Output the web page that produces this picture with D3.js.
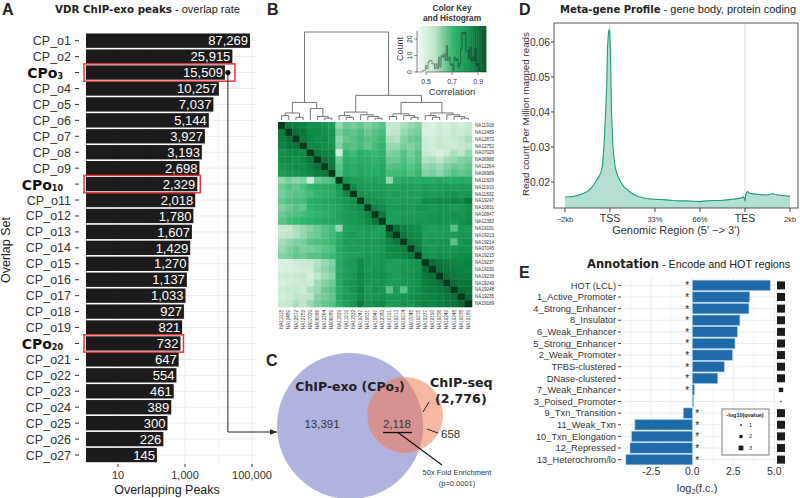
<!DOCTYPE html>
<html>
<head>
<meta charset="utf-8">
<script src="https://d3js.org/d3.v7.min.js"></script>
<style>
  body { margin: 0; background: white; }
  svg { display: block; font-family: "Liberation Sans", Arial, Helvetica, sans-serif; }
  .heavy { font-family: "DejaVu Sans", "Liberation Sans", sans-serif; font-weight: bold; }
</style>
</head>
<body>
<svg id="fig" width="800" height="498"></svg>
<script>
// ---- A: overlap sets
const overlapSets = ["CP_o1","CP_o2","CP_o3","CP_o4","CP_o5","CP_o6","CP_o7","CP_o8","CP_o9","CP_o10",
  "CP_o11","CP_o12","CP_o13","CP_o14","CP_o15","CP_o16","CP_o17","CP_o18","CP_o19","CP_o20",
  "CP_o21","CP_o22","CP_o23","CP_o24","CP_o25","CP_o26","CP_o27"];
const overlapPeaks = [87269,25915,15509,10257,7037,5144,3927,3193,2698,2329,2018,1780,1607,1429,
  1270,1137,1033,927,821,732,647,554,461,389,300,226,145];
const boxedSets = ["CP_o3","CP_o10","CP_o20"];
const peakTicks = [10, 1000, 100000];
const peakMinor = [100, 10000];

// ---- B: correlation heatmap
const samples = ["NA11918","NA12489","NA12872","NA12752","NA07029","NA06986","NA12264","NA06989",
  "NA11829","NA11919","NA11832","NA19247","NA10831","NA10847","NA12383","NA19191","NA19213",
  "NA19214","NA07045","NA19215","NA19237","NA19190","NA19236","NA19249","NA19248","NA19235","NA19189"];
// lower triangle, correlation x100
const corrLower = [
  [100],
  [88,100],
  [87,89,100],
  [86,88,88,100],
  [82,84,85,84,100],
  [83,84,83,85,88,100],
  [80,82,84,83,86,89,100],
  [78,80,81,82,85,87,88,100],
  [60,63,61,62,52,64,66,67,100],
  [64,66,65,67,70,72,73,74,80,100],
  [63,65,66,66,68,70,72,72,78,84,100],
  [65,67,68,68,72,73,75,76,78,80,82,100],
  [62,64,66,65,70,72,73,74,76,79,80,84,100],
  [64,66,67,68,69,70,72,73,77,78,79,82,86,100],
  [66,68,69,70,71,72,74,75,76,78,79,81,84,88,100],
  [55,54,58,60,62,64,66,68,60,76,77,78,79,78,77,100],
  [54,56,57,60,63,64,67,68,72,77,78,77,78,77,78,90,100],
  [58,60,62,63,66,67,68,69,74,78,77,79,80,79,80,86,88,100],
  [60,62,64,62,63,64,66,67,74,77,78,78,79,78,79,84,85,87,100],
  [62,63,65,64,66,66,68,69,73,76,77,78,80,79,80,83,84,86,88,100],
  [50,49,52,53,54,57,60,62,74,78,79,84,80,79,80,78,77,79,80,82,100],
  [48,50,51,52,52,58,61,63,73,77,78,83,79,80,81,77,78,80,79,81,90,100],
  [52,53,54,55,50,56,59,61,75,78,79,85,81,81,82,79,78,80,81,83,88,89,100],
  [50,52,53,54,53,59,62,64,74,79,80,84,80,80,81,78,79,81,80,82,87,88,90,100],
  [53,54,55,53,58,60,64,66,73,77,81,86,79,82,80,66,79,66,81,83,86,87,88,90,100],
  [51,53,56,55,56,62,63,65,74,78,79,84,80,80,82,79,80,81,82,84,85,86,87,88,90,100],
  [54,55,58,56,60,63,65,66,72,77,80,88,82,83,84,78,79,82,81,84,86,85,87,88,89,91,100]
];
// column dendrogram (h = merge height, leaves = sample index)
const dendro = {h:1.0, c:[
  {h:0.2, c:[
    {h:0.08, c:[{h:0.05,c:[0,1]}, {h:0.03,c:[2,3]}]},
    {h:0.13, c:[4, {h:0.04, c:[5,{h:0.02,c:[6,7]}]}]}
  ]},
  {h:0.28, c:[
    {h:0.09, c:[{h:0.05,c:[8,{h:0.03,c:[9,10]}]}, {h:0.06,c:[11,{h:0.04,c:[12,{h:0.02,c:[13,14]}]}]}]},
    {h:0.2, c:[
      {h:0.07, c:[{h:0.04,c:[15,16]},{h:0.05,c:[17,{h:0.03,c:[18,19]}]}]},
      {h:0.08, c:[{h:0.05,c:[20,{h:0.03,c:[21,22]}]},{h:0.06,c:[23,{h:0.04,c:[24,{h:0.02,c:[25,26]}]}]}]}
    ]}
  ]}
]};
const keyTicks = [0.5, 0.7, 0.9];
const countTicks = [0, 10, 20];

// ---- C: venn
const vennExoOnly = "13,391", vennBoth = "2,118", vennSeqOnly = "658", seqTotal = "2,776";

// ---- D: meta-gene profile
const profileX = [0,0.1,0.2,0.3,0.4,0.5,0.58,0.62,0.69,0.76,0.8,0.833,0.87,0.907,0.929,0.944,0.966,0.981,
  0.996,1.018,1.032,1.062,1.095,1.128,1.18,1.239,1.31,1.386,1.46,1.55,1.65,1.8,1.95,2.1,2.25,2.4,2.55,2.7,
  2.85,3.0,3.15,3.3,3.45,3.6,3.75,3.9,3.97,4.0,4.02,4.05,4.1,4.2,4.35,4.5,4.62,4.66,4.8,5.0];
const profileY = [.0157,.0158,.0159,.0162,.0167,.0173,.0182,.0189,.0202,.0216,.0228,.0245,.031,.041,.048,.058,.0625,.0636,
  .0628,.053,.041,.031,.026,.0235,.0215,.02,.0186,.0178,.017,.0163,.0158,.0153,.0151,.015,.0149,.0147,.0146,.0146,
  .0145,.0144,.0146,.0147,.0147,.0149,.0151,.0154,.0157,.0147,.0165,.0173,.0168,.0166,.0164,.0163,.0167,.0164,.0162,.0159];
const regionTicks = [0,1,2,3,4,5];
const regionLabels = ["\u22122kb","TSS","33%","66%","TES","2kb"];
const rpmTicks = [0.02,0.03,0.04,0.05,0.06];

// ---- E: annotation enrichment
const annoCats = ["HOT (LCL)","1_Active_Promoter","4_Strong_Enhancer","8_Insulator","6_Weak_Enhancer",
  "5_Strong_Enhancer","2_Weak_Promoter","TFBS-clustered","DNase-clustered","7_Weak_Enhancer",
  "3_Poised_Promoter","9_Txn_Transition","11_Weak_Txn","10_Txn_Elongation","12_Repressed","13_Heterochrom/lo"];
const annoFC = [4.75,3.5,3.45,2.9,2.75,2.6,2.45,1.95,1.55,0.12,0.08,-0.55,-3.5,-3.7,-3.8,-4.05];
const annoQ = [4,4,4,4,4,4,4,4,4,2.2,0.6,4,4,4,4,4];
const annoStar = [1,1,1,1,1,1,1,1,1,1,0,1,1,1,1,1];
const fcTicks = [-2.5,0,2.5,5];
const fcMinor = [-3.75,-1.25,1.25,3.75];
const qLegend = [1,2,3];

const svg = d3.select("#fig");
const grid = "#ebebeb", gridMinor = "#f5f5f5";

// panel letters
[["A",2,15],["B",267,15],["C",266,366],["D",519,15],["E",519,278]].forEach(l => {
  svg.append("text").attr("x", l[1]).attr("y", l[2]).text(l[0])
    .style("font-size", "16px").style("font-weight", "bold").attr("fill", "#222");
});

// ================= A =================
const aL = 86, aR = 256, aT = 32, aB = 464;
const xA = d3.scaleLog().domain([10, 1000]).range([118, 185]);
const yA = d3.scaleBand().domain(overlapSets).range([32.7, 463]).paddingInner(0.1).paddingOuter(0.05);

let title = svg.append("text").attr("x", 55).attr("y", 13).style("font-size", "11px").attr("fill", "#222");
title.append("tspan").text("VDR ChIP-exo peaks").attr("class", "heavy").style("font-size", "10.3px");
title.append("tspan").text(" - overlap rate");

const gA = svg.append("g");
gA.selectAll(".hg").data(overlapSets).join("line")
  .attr("x1", aL).attr("x2", aR)
  .attr("y1", d => yA(d) + yA.bandwidth() / 2).attr("y2", d => yA(d) + yA.bandwidth() / 2)
  .attr("stroke", grid);
gA.selectAll(".mg").data(peakMinor).join("line")
  .attr("x1", d => xA(d)).attr("x2", d => xA(d)).attr("y1", aT).attr("y2", aB)
  .attr("stroke", gridMinor);
gA.selectAll(".vg").data(peakTicks).join("line")
  .attr("x1", d => xA(d)).attr("x2", d => xA(d)).attr("y1", aT).attr("y2", aB)
  .attr("stroke", grid);

gA.selectAll("rect.bar").data(overlapPeaks).join("rect").attr("class", "bar")
  .attr("x", aL).attr("y", (d, i) => yA(overlapSets[i]))
  .attr("width", d => xA(d) - aL).attr("height", yA.bandwidth())
  .attr("fill", "#1c1a1b");
gA.selectAll("text.val").data(overlapPeaks).join("text").attr("class", "val")
  .attr("x", d => xA(d) - 2).attr("y", (d, i) => yA(overlapSets[i]) + yA.bandwidth() / 2)
  .attr("dy", "0.36em").attr("text-anchor", "end")
  .style("font-size", "13px").attr("fill", "white")
  .text(d => d3.format(",")(d));

// y labels
overlapSets.forEach((s, i) => {
  const yc = yA(s) + yA.bandwidth() / 2;
  gA.append("line").attr("x1", 75).attr("x2", 79).attr("y1", yc).attr("y2", yc).attr("stroke", "#333");
  if (boxedSets.includes(s)) {
    const t = gA.append("text").attr("x", 63).attr("y", yc).attr("dy", "0.36em")
      .attr("text-anchor", "end").attr("fill", "#111").attr("class", "heavy");
    t.append("tspan").text("CPo").style("font-size", "14px");
    t.append("tspan").text(s.replace("CP_o", "")).style("font-size", "8px").attr("dy", "1");
  } else {
    gA.append("text").attr("x", 71).attr("y", yc).attr("dy", "0.36em").attr("text-anchor", "end")
      .style("font-size", "12.5px").attr("fill", "#333").text(s);
  }
});
// red boxes
boxedSets.forEach((s, k) => {
  const v = overlapPeaks[overlapSets.indexOf(s)];
  const extra = k === 0 ? 10 : 3;
  gA.append("rect").attr("x", aL - 2).attr("y", yA(s) - 1.5)
    .attr("width", xA(v) - aL + 2 + extra).attr("height", yA.bandwidth() + 3)
    .attr("fill", "none").attr("stroke", "#e0393a").attr("stroke-width", 1.5);
});
// x axis
gA.selectAll(".xt").data(peakTicks).join("text")
  .attr("x", d => xA(d)).attr("y", 479).attr("text-anchor", "middle")
  .style("font-size", "11px").attr("fill", "#333").text(d => d3.format(",")(d));
gA.selectAll(".xtk").data(peakTicks).join("line")
  .attr("x1", d => xA(d)).attr("x2", d => xA(d)).attr("y1", aB).attr("y2", aB + 3).attr("stroke", "#333");
gA.append("text").attr("x", (aL + aR) / 2 - 4).attr("y", 494).attr("text-anchor", "middle")
  .style("font-size", "12.5px").attr("fill", "#222").text("Overlapping Peaks");
gA.append("text").attr("transform", "translate(10,250) rotate(-90)").attr("text-anchor", "middle")
  .style("font-size", "12.5px").attr("fill", "#222").text("Overlap Set");

// ================= B =================
const n = samples.length;
const corr = d3.range(n).map(i => d3.range(n).map(j => (i >= j ? corrLower[i][j] : corrLower[j][i]) / 100));
const xB = d3.scaleBand().domain(d3.range(n)).range([278, 472]);
const yB = d3.scaleBand().domain(d3.range(n)).range([122, 307]);
const heat = d3.scaleLinear()
  .domain([0.43, 0.56, 0.7, 0.84, 1.0])
  .range(["#f2faf4", "#bfe6cb", "#2fb46b", "#0e8c47", "#03381b"]);

const gB = svg.append("g");
const cells = [];
corr.forEach((row, i) => row.forEach((v, j) => cells.push({i, j, v})));
gB.selectAll("rect.cell").data(cells).join("rect").attr("class", "cell")
  .attr("x", d => xB(d.j)).attr("y", d => yB(d.i))
  .attr("width", xB.bandwidth() + 0.3).attr("height", yB.bandwidth() + 0.3)
  .attr("fill", d => heat(d.v));
gB.selectAll("text.rl").data(samples).join("text").attr("class", "rl")
  .attr("x", 475).attr("y", (d, i) => yB(i) + yB.bandwidth() / 2).attr("dy", "0.35em")
  .style("font-size", "4.6px").attr("fill", "#333").text(d => d);
gB.selectAll("text.cl").data(samples).join("text").attr("class", "cl")
  .attr("transform", (d, i) => `translate(${xB(i) + xB.bandwidth() / 2 + 1.6},310) rotate(-90)`)
  .attr("text-anchor", "end")
  .style("font-size", "4.6px").attr("fill", "#333").text(d => d);

// dendrogram
const yD = d3.scaleLinear().domain([0, 1]).range([120, 32]);
function drawNode(nd) {
  if (typeof nd === "number") return {x: xB(nd) + xB.bandwidth() / 2, h: 0};
  const kids = nd.c.map(drawNode);
  const y = yD(nd.h);
  kids.forEach(k => {
    gB.append("line").attr("x1", k.x).attr("x2", k.x).attr("y1", yD(k.h)).attr("y2", y)
      .attr("stroke", "#666").attr("stroke-width", 0.9);
  });
  gB.append("line").attr("x1", kids[0].x).attr("x2", kids[kids.length - 1].x).attr("y1", y).attr("y2", y)
    .attr("stroke", "#666").attr("stroke-width", 0.9);
  return {x: d3.mean(kids, k => k.x), h: nd.h};
}
drawNode(dendro);

// color key + histogram
const kx = d3.scaleLinear().domain([0.43, 0.96]).range([417, 486]);
const ky = d3.scaleLinear().domain([0, 28]).range([72, 26]);
const keySteps = d3.range(0.43, 0.96, 0.005);
gB.selectAll("rect.key").data(keySteps).join("rect").attr("class", "key")
  .attr("x", d => kx(d)).attr("y", ky(28)).attr("width", kx(0.435) - kx(0.43) + 0.4)
  .attr("height", ky(0) - ky(28)).attr("fill", d => heat(d));
const offDiag = [];
corrLower.forEach((row, i) => row.forEach((v, j) => { if (j < i) offDiag.push(v); }));
const counts = d3.range(43, 97).map(v => ({v: v / 100, c: offDiag.filter(o => o === v).length}));
const step = [];
counts.forEach(d => { step.push([kx(d.v - 0.005), ky(Math.min(d.c, 28))]); step.push([kx(d.v + 0.005), ky(Math.min(d.c, 28))]); });
gB.append("path").attr("d", d3.line()(step)).attr("fill", "none")
  .attr("stroke", "rgba(20,20,20,0.55)").attr("stroke-width", 0.8);
gB.append("line").attr("x1", 417).attr("x2", 417).attr("y1", ky(0)).attr("y2", ky(25)).attr("stroke", "#333").attr("stroke-width", 0.6);
gB.selectAll(".kyt").data(countTicks).join("line")
  .attr("x1", 414).attr("x2", 417).attr("y1", d => ky(d)).attr("y2", d => ky(d)).attr("stroke", "#333").attr("stroke-width", 0.6);
gB.selectAll(".kytl").data(countTicks).join("text")
  .attr("transform", d => `translate(412,${ky(d)}) rotate(-90)`).attr("text-anchor", "middle")
  .style("font-size", "7px").attr("fill", "#333").text(d => d);
gB.append("line").attr("x1", kx(0.5)).attr("x2", kx(0.9)).attr("y1", 72).attr("y2", 72).attr("stroke", "#333").attr("stroke-width", 0.6);
gB.selectAll(".kxt").data(keyTicks).join("line")
  .attr("x1", d => kx(d)).attr("x2", d => kx(d)).attr("y1", 72).attr("y2", 75).attr("stroke", "#333").attr("stroke-width", 0.6);
gB.selectAll(".kxtl").data(keyTicks).join("text")
  .attr("x", d => kx(d)).attr("y", 84).attr("text-anchor", "middle")
  .style("font-size", "7px").attr("fill", "#333").text(d => d);
gB.append("text").attr("x", 452).attr("y", 95).attr("text-anchor", "middle")
  .style("font-size", "9.5px").attr("fill", "#333").text("Correlation");
gB.append("text").attr("transform", "translate(403,49) rotate(-90)").attr("text-anchor", "middle")
  .style("font-size", "9px").attr("fill", "#333").text("Count");
gB.append("text").attr("x", 452).attr("y", 11).attr("text-anchor", "middle")
  .style("font-size", "8.3px").style("font-weight", "bold").attr("fill", "#333").text("Color Key");
gB.append("text").attr("x", 452).attr("y", 21).attr("text-anchor", "middle")
  .style("font-size", "8.3px").style("font-weight", "bold").attr("fill", "#333").text("and Histogram");

// ================= C =================
const gC = svg.append("g");
const big = {x: 350, y: 426, r: 73}, small = {x: 405, y: 415, r: 38};
gC.append("clipPath").attr("id", "bigclip").append("circle")
  .attr("cx", big.x).attr("cy", big.y).attr("r", big.r);
gC.append("circle").attr("cx", big.x).attr("cy", big.y).attr("r", big.r).attr("fill", "#b1b3df");
gC.append("circle").attr("cx", small.x).attr("cy", small.y).attr("r", small.r).attr("fill", "#f5b8a1");
gC.append("circle").attr("cx", small.x).attr("cy", small.y).attr("r", small.r).attr("fill", "#d69191")
  .attr("clip-path", "url(#bigclip)");

let t1 = gC.append("text").attr("x", 350).attr("y", 391).attr("text-anchor", "middle")
  .style("font-size", "12.5px").attr("class", "heavy").attr("fill", "#222");
t1.append("tspan").text("ChIP-exo (CPo");
t1.append("tspan").text("3").style("font-size", "7px").attr("dy", 1);
t1.append("tspan").text(")").attr("dy", -1);
gC.append("text").attr("x", 430).attr("y", 387).style("font-size", "12.7px").attr("class", "heavy")
  .attr("fill", "#222").text("ChIP-seq");
gC.append("text").attr("x", 435).attr("y", 403).style("font-size", "12.7px").attr("class", "heavy")
  .attr("fill", "#222").text("(" + seqTotal + ")");
gC.append("line").attr("x1", 423).attr("y1", 412).attr("x2", 429).attr("y2", 402).attr("stroke", "#222");
gC.append("text").attr("x", 322).attr("y", 428).attr("text-anchor", "middle").style("font-size", "11.5px")
  .attr("fill", "#333").text(vennExoOnly);
gC.append("text").attr("x", 397).attr("y", 428).attr("text-anchor", "middle").style("font-size", "11.5px")
  .attr("fill", "#333").text(vennBoth);
gC.append("line").attr("x1", 383).attr("x2", 412).attr("y1", 432.5).attr("y2", 432.5).attr("stroke", "#111").attr("stroke-width", 1.3);
gC.append("line").attr("x1", 398).attr("y1", 432.5).attr("x2", 442).attr("y2", 465).attr("stroke", "#111").attr("stroke-width", 1.1);
gC.append("text").attr("x", 441).attr("y", 438).style("font-size", "11.5px").attr("fill", "#333").text(vennSeqOnly);
gC.append("line").attr("x1", 427).attr("y1", 429).attr("x2", 438).attr("y2", 433).attr("stroke", "#222");
gC.append("text").attr("x", 457).attr("y", 475).attr("text-anchor", "middle").style("font-size", "7.5px")
  .attr("fill", "#333").text("50x Fold Enrichment");
gC.append("text").attr("x", 457).attr("y", 486).attr("text-anchor", "middle").style("font-size", "7.5px")
  .attr("fill", "#333").text("(p=0.0001)");

// connector from CPo3 bar to venn
const cy3 = yA("CP_o3") + yA.bandwidth() / 2;
const dotX = xA(overlapPeaks[2]) + 3;
svg.append("defs").append("marker").attr("id", "arr").attr("viewBox", "0 0 10 10")
  .attr("refX", 10).attr("refY", 5).attr("markerWidth", 7).attr("markerHeight", 7).attr("orient", "auto")
  .append("path").attr("d", "M0,1 L10,5 L0,9 Z").attr("fill", "#222");
svg.append("path").attr("d", `M${dotX},${cy3} V432 H${big.x - big.r}`)
  .attr("fill", "none").attr("stroke", "#222").attr("stroke-width", 1).attr("marker-end", "url(#arr)");
svg.append("circle").attr("cx", dotX).attr("cy", cy3).attr("r", 2.6).attr("fill", "#111");

// ================= D =================
const gD = svg.append("g");
const xD = d3.scaleLinear().domain([-0.243, 5.177]).range([554, 798]);
const yDp = d3.scaleLinear().domain([0.01257, 0.0654]).range([208, 23]);
let tD = gD.append("text").attr("x", 560).attr("y", 13).style("font-size", "11px").attr("fill", "#222");
tD.append("tspan").text("Meta-gene Profile").attr("class", "heavy").style("font-size", "10px");
tD.append("tspan").text(" - gene body, protein coding");

const prof = profileX.map((x, i) => [x, profileY[i]]);
gD.append("path").datum(prof)
  .attr("d", d3.area().x(d => xD(d[0])).y0(yDp(0.01257)).y1(d => yDp(d[1])))
  .attr("fill", "#b3e0d2");
[1, 4].forEach(t => gD.append("line").attr("x1", xD(t)).attr("x2", xD(t)).attr("y1", 23).attr("y2", 208)
  .attr("stroke", "#cfcfcf").attr("stroke-width", 0.8));
gD.append("path").datum(prof)
  .attr("d", d3.line().x(d => xD(d[0])).y(d => yDp(d[1])))
  .attr("fill", "none").attr("stroke", "#1b9e7e").attr("stroke-width", 1.1);
gD.append("rect").attr("x", 554).attr("y", 23).attr("width", 244).attr("height", 185)
  .attr("fill", "none").attr("stroke", "#444").attr("stroke-width", 0.9);
gD.selectAll(".dyt").data(rpmTicks).join("line")
  .attr("x1", 551).attr("x2", 554).attr("y1", d => yDp(d)).attr("y2", d => yDp(d)).attr("stroke", "#444");
gD.selectAll(".dytl").data(rpmTicks).join("text")
  .attr("x", 550).attr("y", d => yDp(d)).attr("dy", "0.35em").attr("text-anchor", "end")
  .style("font-size", "10.3px").attr("fill", "#333").text(d => d.toFixed(2));
gD.selectAll(".dxt").data(regionTicks).join("line")
  .attr("x1", d => xD(d)).attr("x2", d => xD(d)).attr("y1", 208).attr("y2", 212).attr("stroke", "#444");
gD.selectAll(".dxtl").data(regionTicks).join("text")
  .attr("x", d => xD(d)).attr("y", 222).attr("text-anchor", "middle")
  .style("font-size", (d, i) => (regionLabels[i] === "TSS" || regionLabels[i] === "TES") ? "10.5px" : "7.5px")
  .attr("fill", "#333").text((d, i) => regionLabels[i]);
gD.append("text").attr("x", 676).attr("y", 234).attr("text-anchor", "middle")
  .style("font-size", "11px").attr("fill", "#333").text("Genomic Region (5' \u2212> 3')");
gD.append("text").attr("transform", "translate(529,114) rotate(-90)").attr("text-anchor", "middle")
  .style("font-size", "9.8px").attr("fill", "#333").text("Read count Per Million mapped reads");

// ================= E =================
const gE = svg.append("g");
const xE = d3.scaleLinear().domain([-4.2, 5.1]).range([623.4, 776]);
const yE = d3.scaleBand().domain(annoCats).range([279, 466]).padding(0.1);
let tE = gE.append("text").attr("x", 587).attr("y", 268).style("font-size", "10.8px").attr("fill", "#222");
tE.append("tspan").text("Annotation").attr("class", "heavy").style("font-size", "11.5px");
tE.append("tspan").text(" - Encode and HOT regions");

gE.selectAll(".emg").data(fcMinor).join("line")
  .attr("x1", d => xE(d)).attr("x2", d => xE(d)).attr("y1", 277).attr("y2", 466).attr("stroke", gridMinor);
gE.selectAll(".eg").data(fcTicks).join("line")
  .attr("x1", d => xE(d)).attr("x2", d => xE(d)).attr("y1", 277).attr("y2", 466).attr("stroke", grid);
gE.selectAll(".ehg").data(annoCats).join("line")
  .attr("x1", 623.4).attr("x2", 776).attr("y1", d => yE(d) + yE.bandwidth() / 2).attr("y2", d => yE(d) + yE.bandwidth() / 2)
  .attr("stroke", grid);
gE.selectAll("rect.eb").data(annoFC).join("rect").attr("class", "eb")
  .attr("x", d => xE(Math.min(0, d))).attr("y", (d, i) => yE(annoCats[i]))
  .attr("width", d => Math.abs(xE(d) - xE(0))).attr("height", yE.bandwidth())
  .attr("fill", "#1f6aa8").attr("stroke", "#a9cbe6").attr("stroke-width", 0.6);
gE.selectAll("text.star").data(annoFC).join("text").attr("class", "star")
  .attr("x", d => d >= 0 ? xE(0) - 5 : xE(0) + 5)
  .attr("y", (d, i) => yE(annoCats[i]) + yE.bandwidth() / 2 + 4).attr("text-anchor", "middle")
  .style("font-size", "10px").attr("fill", "#222").text((d, i) => annoStar[i] ? "*" : "");
gE.selectAll("text.el").data(annoCats).join("text").attr("class", "el")
  .attr("x", 616).attr("y", d => yE(d) + yE.bandwidth() / 2).attr("dy", "0.35em").attr("text-anchor", "end")
  .style("font-size", "9.3px").attr("fill", "#333").text(d => d);
gE.selectAll("line.etk").data(annoCats).join("line").attr("class", "etk")
  .attr("x1", 618).attr("x2", 621).attr("y1", d => yE(d) + yE.bandwidth() / 2).attr("y2", d => yE(d) + yE.bandwidth() / 2)
  .attr("stroke", "#444");
gE.selectAll("text.ext").data(fcTicks).join("text").attr("class", "ext")
  .attr("x", d => xE(d)).attr("y", 475).attr("text-anchor", "middle")
  .style("font-size", "10.5px").attr("fill", "#333").text(d => d.toFixed(1));
let xl = gE.append("text").attr("x", 697).attr("y", 492).attr("text-anchor", "middle")
  .style("font-size", "11px").attr("fill", "#333");
xl.append("tspan").text("log");
xl.append("tspan").text("2").style("font-size", "7px").attr("dy", 2);
xl.append("tspan").text("(f.c.)").attr("dy", -2);

const qs = d3.scaleLinear().domain([0, 4]).range([0, 8]);
gE.selectAll("rect.q").data(annoQ).join("rect").attr("class", "q")
  .attr("x", d => 781 - qs(d) / 2).attr("y", (d, i) => yE(annoCats[i]) + yE.bandwidth() / 2 - qs(d) / 2)
  .attr("width", d => qs(d)).attr("height", d => qs(d)).attr("fill", "#1c1c1c");
// legend
gE.append("rect").attr("x", 722).attr("y", 409).attr("width", 47).attr("height", 46)
  .attr("fill", "white").attr("stroke", "#444").attr("stroke-width", 0.7);
gE.append("text").attr("x", 745).attr("y", 417).attr("text-anchor", "middle")
  .style("font-size", "5.5px").style("font-weight", "bold").attr("fill", "#222").text("-log10(qvalue)");
qLegend.forEach((q, i) => {
  const yy = 425 + i * 11.5;
  gE.append("rect").attr("x", 741 - qs(q) * 0.8 / 2).attr("y", yy - qs(q) * 0.8 / 2)
    .attr("width", qs(q) * 0.8).attr("height", qs(q) * 0.8).attr("fill", "#1c1c1c");
  gE.append("text").attr("x", 749).attr("y", yy).attr("dy", "0.35em").style("font-size", "5.5px")
    .attr("fill", "#222").text(q);
});
</script>
</body>
</html>
